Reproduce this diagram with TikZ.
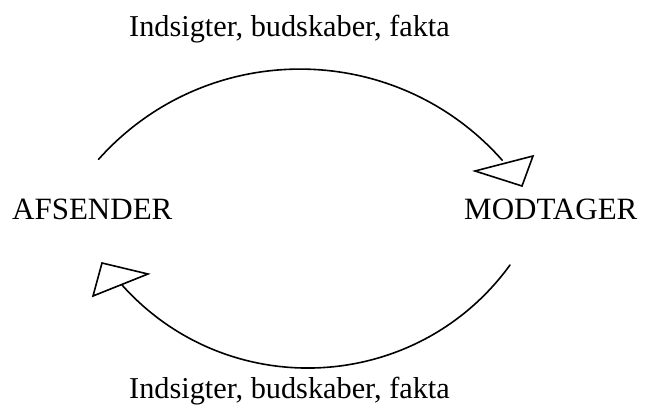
\documentclass[tikz,border=0pt]{standalone}
\usepackage{fontspec}
\setmainfont{Liberation Serif}
\begin{document}
\begin{tikzpicture}[x=1pt,y=-1pt,
  lbl/.style={inner sep=0pt,font=\fontsize{31}{37}\selectfont},
  msg/.style={inner sep=0pt,anchor=base,font=\fontsize{30.3}{36}\selectfont},
  flow/.style={line width=1.6pt,line cap=round},
  headtri/.style={line width=1.6pt,line join=miter,fill=white}]
\useasboundingbox (0,0) rectangle (646,408);
\node[lbl,anchor=base west] (afs) at (12,219) {AFSENDER};
\node[lbl,anchor=base west] (mod) at (464,219) {MODTAGER};
\node[msg] (top) at (289.5,36.7) {Indsigter, budskaber, fakta};
\node[msg] (bot) at (289.5,398) {Indsigter, budskaber, fakta};
% top arc
\coordinate (t0) at (98.5,159.4);
\coordinate (t1) at (502.2,160.2);
\draw[flow] (t0) .. controls (206.1,38.7) and (394.9,39.0) .. (t1);
\draw[headtri] (475,171) -- (533,156) -- (522,186) -- cycle;
% bottom arc
\coordinate (b0) at (510,265);
\coordinate (b1) at (122,285);
\draw[flow] (b0) .. controls (416.6,393.7) and (228.1,403.5) .. (b1);
\draw[headtri] (102,263) -- (148,274) -- (93,296) -- cycle;
\end{tikzpicture}
\end{document}
